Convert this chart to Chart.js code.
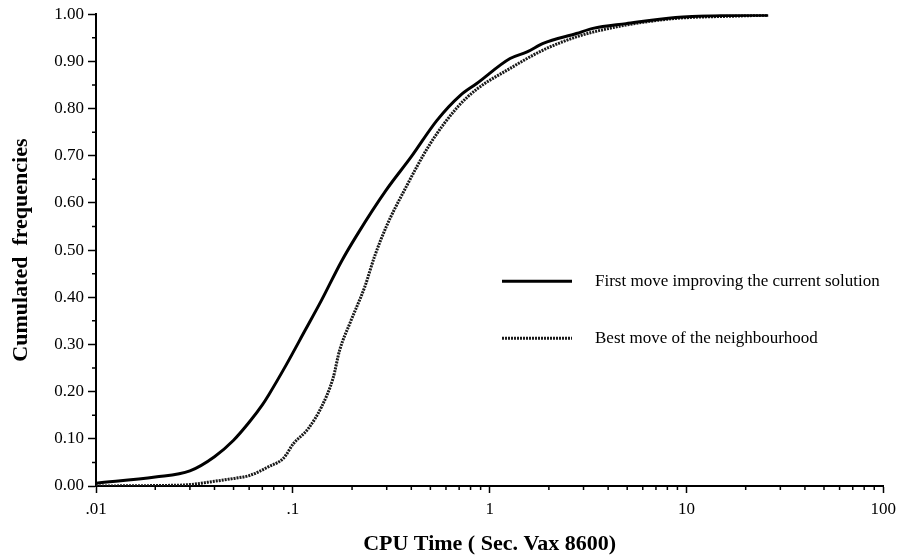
<!DOCTYPE html>
<html>
<head>
<meta charset="utf-8">
<script src="https://cdn.jsdelivr.net/npm/chart.js@4/dist/chart.umd.min.js"></script>
<style>
  html, body { margin: 0; padding: 0; background: #fff; }
  #wrap { width: 902px; height: 560px; }
</style>
</head>
<body>
<div id="wrap"><canvas id="myChart"></canvas></div>
<script>
// CPU time (sec) and cumulated frequency for each strategy
const firstMoveTime = [0.01, 0.02, 0.03, 0.04, 0.05, 0.06, 0.07, 0.0754, 0.0915, 0.1155, 0.14, 0.1766, 0.214, 0.298, 0.40, 0.54, 0.71, 0.86, 1.27, 1.55, 1.87, 2.76, 3.35, 4.93, 8.8, 15, 26];
const firstMoveFreq = [0.006, 0.019, 0.032, 0.062, 0.097, 0.135, 0.172, 0.193, 0.253, 0.33, 0.394, 0.476, 0.535, 0.627, 0.698, 0.775, 0.828, 0.853, 0.906, 0.92, 0.938, 0.959, 0.97, 0.98, 0.993, 0.997, 0.998];

const bestMoveTime = [0.01, 0.02, 0.03, 0.04, 0.05, 0.06, 0.0754, 0.0897, 0.1008, 0.12, 0.14, 0.16, 0.173, 0.195, 0.232, 0.26, 0.298, 0.369, 0.50, 0.69, 0.86, 1.27, 1.87, 2.76, 3.35, 4.93, 8.8, 17.7, 26];
const bestMoveFreq = [0.0, 0.001, 0.003, 0.010, 0.016, 0.022, 0.041, 0.059, 0.090, 0.122, 0.168, 0.228, 0.288, 0.345, 0.422, 0.486, 0.549, 0.627, 0.726, 0.804, 0.841, 0.885, 0.924, 0.952, 0.962, 0.977, 0.991, 0.996, 0.998];

const seriesLabels = ['First move improving the current solution', 'Best move of the neighbourhood'];

const xTickValues = [0.01, 0.1, 1, 10, 100];
const xTickLabels = ['.01', '.1', '1', '10', '100'];
const yTickValues = [0, 0.1, 0.2, 0.3, 0.4, 0.5, 0.6, 0.7, 0.8, 0.9, 1.0];
const yTickLabels = ['0.00', '0.10', '0.20', '0.30', '0.40', '0.50', '0.60', '0.70', '0.80', '0.90', '1.00'];

const serif = "'Liberation Serif', 'DejaVu Serif', serif";

function toPoints(xs, ys) {
    return xs.map((x, i) => ({ x: x, y: ys[i] }));
}

// minor ticks: 2..9 in each decade, and halfway between y labels
const xMinor = [];
for (let d = 0; d < xTickValues.length - 1; d++) {
    for (let m = 2; m <= 9; m++) xMinor.push(+(xTickValues[d] * m).toPrecision(3));
}
const yMinor = yTickValues.slice(0, -1).map(v => +(v + 0.05).toFixed(2));

// short minor ticks + legend drawn inside the plot area
const extras = {
    id: 'extras',
    afterDraw(chart) {
        const ctx = chart.ctx;
        const xs = chart.scales.x, ys = chart.scales.y;
        ctx.save();
        ctx.strokeStyle = '#000';
        ctx.lineWidth = 1.5;
        ctx.beginPath();
        xMinor.forEach(v => {
            const px = xs.getPixelForValue(v);
            ctx.moveTo(px, ys.bottom);
            ctx.lineTo(px, ys.bottom + 4);
        });
        yMinor.forEach(v => {
            const py = ys.getPixelForValue(v);
            ctx.moveTo(xs.left, py);
            ctx.lineTo(xs.left - 4, py);
        });
        ctx.stroke();

        // legend
        const area = chart.chartArea;
        const lx0 = area.left + 406, lx1 = area.left + 476, tx = area.left + 499;
        const rows = [area.top + 267, area.top + 324];
        chart.data.datasets.forEach((ds, i) => {
            ctx.beginPath();
            ctx.strokeStyle = ds.borderColor;
            ctx.lineWidth = ds.borderWidth;
            ctx.setLineDash(ds.borderDash || []);
            ctx.moveTo(lx0, rows[i]);
            ctx.lineTo(lx1, rows[i]);
            ctx.stroke();
            ctx.setLineDash([]);
            ctx.fillStyle = '#000';
            ctx.font = '17px ' + serif;
            ctx.textBaseline = 'middle';
            ctx.fillText(ds.label, tx, rows[i]);
        });
        ctx.restore();
    }
};

const config = {
    type: 'line',
    data: {
        datasets: [{
            label: seriesLabels[0],
            data: toPoints(firstMoveTime, firstMoveFreq),
            borderColor: '#000',
            borderWidth: 3,
            pointRadius: 0,
            cubicInterpolationMode: 'monotone'
        }, {
            label: seriesLabels[1],
            data: toPoints(bestMoveTime, bestMoveFreq),
            borderColor: '#1a1a1a',
            borderWidth: 3,
            borderDash: [2, 1],
            pointRadius: 0,
            cubicInterpolationMode: 'monotone'
        }]
    },
    options: {
        responsive: true,
        maintainAspectRatio: false,
        animation: false,
        layout: { padding: { top: 14, right: 10, left: 0, bottom: 0 } },
        plugins: {
            legend: { display: false },
            tooltip: { enabled: false }
        },
        scales: {
            x: {
                type: 'logarithmic',
                min: 0.01,
                max: 100,
                afterBuildTicks: s => { s.ticks = xTickValues.map(v => ({ value: v })); },
                afterFit: s => { s.height = 74; },
                border: { display: true, color: '#000', width: 2 },
                grid: { drawOnChartArea: false, drawTicks: true, tickLength: 7, tickColor: '#000', tickWidth: 1.5 },
                ticks: {
                    color: '#000',
                    padding: 6,
                    maxRotation: 0,
                    font: { family: serif, size: 17 },
                    callback: function(value) {
                        const i = xTickValues.indexOf(value);
                        return i >= 0 ? xTickLabels[i] : '';
                    }
                },
                title: {
                    display: true,
                    text: 'CPU Time ( Sec. Vax 8600)',
                    color: '#000',
                    font: { family: serif, size: 22, weight: 'bold' },
                    padding: { top: 0, bottom: 2 }
                }
            },
            y: {
                min: 0,
                max: 1,
                afterBuildTicks: s => { s.ticks = yTickValues.map(v => ({ value: v })); },
                afterFit: s => { s.width = 96; },
                border: { display: true, color: '#000', width: 2 },
                grid: { drawOnChartArea: false, drawTicks: true, tickLength: 8, tickColor: '#000', tickWidth: 1.5 },
                ticks: {
                    color: '#000',
                    padding: 4,
                    font: { family: serif, size: 17 },
                    callback: function(value) {
                        const i = yTickValues.findIndex(v => Math.abs(v - value) < 1e-6);
                        return i >= 0 ? yTickLabels[i] : '';
                    }
                },
                title: {
                    display: true,
                    text: 'Cumulated  frequencies',
                    color: '#000',
                    font: { family: serif, size: 22, weight: 'bold' },
                    padding: { top: 8, bottom: 0 }
                }
            }
        }
    },
    plugins: [extras]
};

window.onload = function() {
    const ctx = document.getElementById('myChart').getContext('2d');
    const myChart = new Chart(ctx, config);
};
</script>
</body>
</html>
